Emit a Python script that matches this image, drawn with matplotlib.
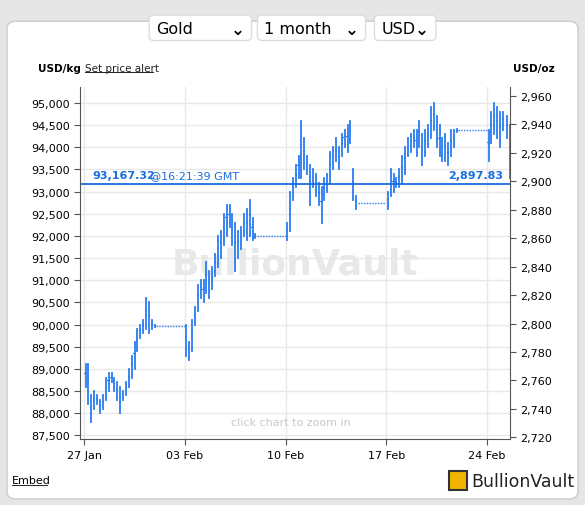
import matplotlib.pyplot as plt
from matplotlib.patches import FancyBboxPatch, Rectangle

OZ_PER_KG = 32.1507
CURRENT = 93167.32
CURRENT_OZ = 2897.83

# trading day offsets (days since 27 Jan) and (low, high) bars in USD/kg
day_offsets = [0, 1, 2, 3, 4, 7, 8, 9, 10, 11, 14, 15, 16, 17, 18, 21, 22, 23, 24, 25, 28, 29]
day_bars = [
    [(88600, 89100), (88200, 89100), (87800, 88400), (88100, 88500), (88200, 88400)],
    [(88000, 88300), (88100, 88400), (88300, 88800), (88500, 88900), (88700, 88900)],
    [(88500, 88800), (88300, 88700), (88000, 88600), (88300, 88500), (88400, 88700)],
    [(88600, 89000), (88800, 89300), (89000, 89600), (89400, 89900), (89700, 90000)],
    [(89800, 90100), (89900, 90600), (89800, 90500), (89900, 90100), (89950, 90000)],
    [(89300, 90000), (89200, 89600), (89400, 90100), (90000, 90400), (90300, 90900)],
    [(90600, 91000), (90500, 91000), (90700, 91400), (90600, 91200), (90800, 91300)],
    [(91100, 91600), (91300, 92000), (91500, 92100), (91800, 92500), (92000, 92700)],
    [(92200, 92700), (91800, 92500), (91200, 92300), (91500, 92100), (91700, 92200)],
    [(92000, 92500), (91900, 92600), (92000, 92800), (91900, 92400), (91950, 92050)],
    [(91900, 92300), (92100, 93000), (92800, 93300), (93100, 93600), (93300, 93800)],
    [(93300, 94600), (93500, 94200), (93400, 93800), (92700, 93600), (93100, 93500)],
    [(92900, 93400), (92700, 93200), (92300, 93100), (92800, 93300), (93000, 93400)],
    [(93200, 93900), (93500, 94000), (93700, 94200), (93500, 94000), (93800, 94300)],
    [(94000, 94400), (93900, 94500), (94100, 94600), (92800, 93500), (92600, 92900)],
    [(92600, 93000), (92900, 93500), (93000, 93400), (93100, 93300), (93100, 93500)],
    [(93200, 93800), (93400, 94000), (93800, 94200), (93900, 94300), (94000, 94400)],
    [(93800, 94400), (94000, 94600), (93600, 94300), (93800, 94400), (94000, 94500)],
    [(94200, 94900), (94400, 95000), (94000, 94700), (93800, 94500), (93700, 94200)],
    [(93700, 94300), (93600, 94100), (93800, 94400), (94000, 94400), (94350, 94420)],
    [(93700, 94400), (94100, 94800), (94300, 95000), (94200, 94900), (94000, 94800)],
    [(94400, 94800), (94200, 94700), (93300, 94500), (93100, 93300)],
]
weekend_starts = [4.9, 11.9, 18.9, 25.9]
weekend_levels = [89970, 92000, 92750, 94380]
tick_days = [0, 7, 14, 21, 28]
tick_labels = ["27 Jan", "03 Feb", "10 Feb", "17 Feb", "24 Feb"]

BLUE = "#2a7cf0"

fig = plt.figure(figsize=(5.85, 5.06), dpi=100)
fig.patches.append(FancyBboxPatch((0.012, 0.012), 0.976, 0.944, boxstyle="round,pad=0,rounding_size=0.015",
                                  transform=fig.transFigure, facecolor="white", edgecolor="#cccccc",
                                  zorder=-10))
fig.patch.set_facecolor("#e6e6e6")

# dropdowns
for x0, w, label in [(0.255, 0.175, "Gold"), (0.44, 0.185, "1 month"), (0.64, 0.105, "USD")]:
    fig.patches.append(FancyBboxPatch((x0, 0.918), w, 0.05, boxstyle="round,pad=0,rounding_size=0.008",
                                      transform=fig.transFigure, facecolor="white", edgecolor="#dddddd",
                                      zorder=-5))
    fig.text(x0 + 0.012, 0.941, label, fontsize=11.5, va="center")
    fig.text(x0 + w - 0.012, 0.941, "⌄", fontsize=12, va="center", ha="right", fontweight="bold")

ax = fig.add_axes([0.137, 0.130, 0.735, 0.696])
ax.patch.set_alpha(0)
ax.set_ylim(87410, 95361)
ax.set_xlim(-0.28, 29.6)

for d, bars in zip(day_offsets, day_bars):
    n = len(bars)
    for i, (lo, hi) in enumerate(bars):
        x = d + (i + 0.5) / n
        ax.plot([x, x], [lo, hi], color=BLUE, lw=1.3)
        ax.plot([x - 0.08, x], [lo + (hi - lo) * 0.6] * 2, color=BLUE, lw=0.8)
for s, lvl in zip(weekend_starts, weekend_levels):
    ax.plot([s + 0.1, s + 2.1], [lvl, lvl], color=BLUE, lw=1, ls=(0, (1, 1)))

ax.axhline(CURRENT, color="#1a6de0", lw=1.3)
ax.text(0.6, CURRENT + 90, "93,167.32", color="#1a6de0", fontsize=8, fontweight="bold", va="bottom")
ax.text(4.6, CURRENT + 90, "@16:21:39 GMT", color="#1a6de0", fontsize=8, va="bottom")
ax.text(29.1, CURRENT + 90, f"{CURRENT_OZ:,.2f}", color="#1a6de0", fontsize=8, fontweight="bold",
        va="bottom", ha="right")

ax.text(0.5, 0.5, "BullionVault", transform=ax.transAxes, fontsize=26, color="#e8e8e8",
        fontweight="bold", ha="center", va="center", zorder=0)
ax.text(0.49, 0.04, "click chart to zoom in", transform=ax.transAxes, fontsize=8, color="#c8c8c8",
        ha="center")

yt = list(range(87500, 95001, 500))
ax.set_yticks(yt)
ax.set_yticklabels([f"{v:,}" for v in yt], fontsize=8)
ax.set_xticks(tick_days)
ax.set_xticklabels(tick_labels, fontsize=8)
ax.grid(True, color="#e8e8e8", lw=1)
ax.set_axisbelow(True)
for sp in ["top", "right"]:
    ax.spines[sp].set_visible(False)
ax.spines["left"].set_color("#555555")
ax.spines["bottom"].set_color("#555555")
ax.tick_params(length=4, color="#555555")

ax2 = ax.twinx()
ax2.set_ylim(87410 / OZ_PER_KG, 95361 / OZ_PER_KG)
yt2 = list(range(2720, 2961, 20))
ax2.set_yticks(yt2)
ax2.set_yticklabels([f"{v:,}" for v in yt2], fontsize=8)
for sp in ["top", "left", "bottom"]:
    ax2.spines[sp].set_visible(False)
ax2.spines["right"].set_color("#555555")
ax2.tick_params(length=4, color="#555555")

fig.text(0.065, 0.858, "USD/kg", fontsize=7.5, fontweight="bold")
fig.text(0.145, 0.858, "Set price alert", fontsize=7.5, color="#222222")
fig.add_artist(plt.Line2D([0.145, 0.262], [0.855, 0.855], color="#222222", lw=0.7))
fig.text(0.877, 0.858, "USD/oz", fontsize=7.5, fontweight="bold")
fig.text(0.02, 0.043, "Embed", fontsize=8)
fig.add_artist(plt.Line2D([0.02, 0.08], [0.040, 0.040], color="#222222", lw=0.7))
fig.patches.append(Rectangle((0.767, 0.03), 0.032, 0.037, transform=fig.transFigure,
                             facecolor="#f0b400", edgecolor="#333333", lw=1.5))
fig.text(0.805, 0.048, "BullionVault", fontsize=12.5, va="center", color="#222222")

fig.savefig("out.png", dpi=100)
